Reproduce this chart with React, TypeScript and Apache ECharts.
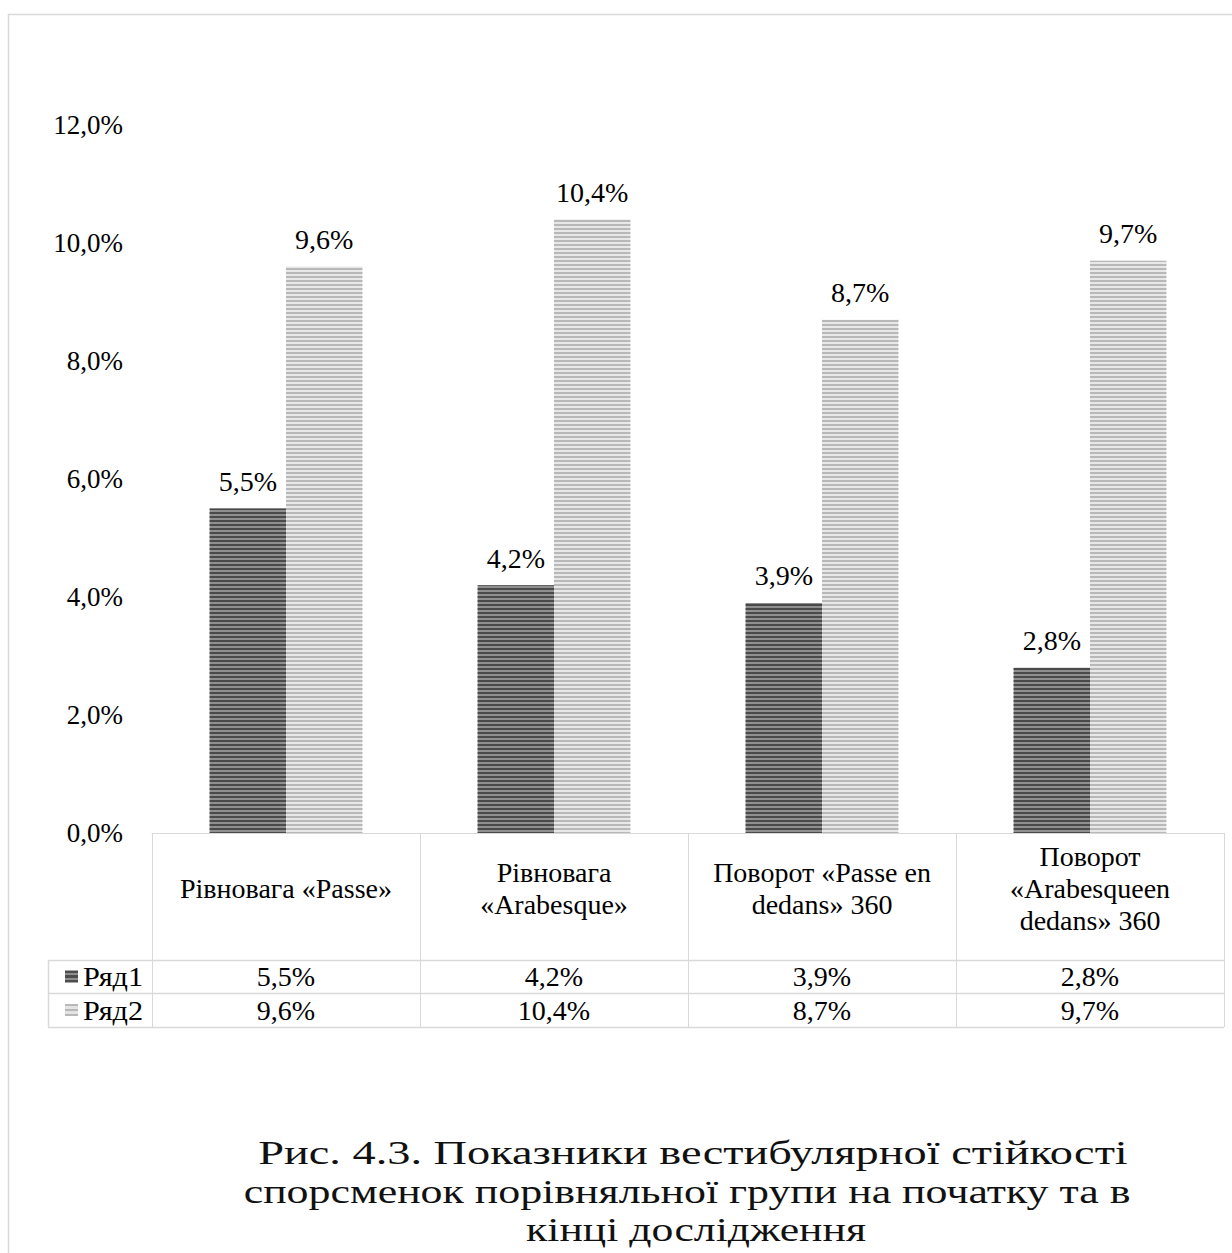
import React, { useEffect, useRef } from 'react';
import * as echarts from 'echarts';

const categories = [
  'Рівновага «Passe»',
  'Рівновага\n«Arabesque»',
  'Поворот «Passe en\ndedans» 360',
  'Поворот\n«Arabesqueen\ndedans» 360',
];
const seriesNames = ['Ряд1', 'Ряд2'];
const series1 = [5.5, 4.2, 3.9, 2.8];
const series2 = [9.6, 10.4, 8.7, 9.7];
const yMin = 0;
const yMax = 12;
const yStep = 2;
const captionLines = [
  'Рис. 4.3. Показники вестибулярної стійкості',
  'спорсменок порівняльної групи на початку та в',
  'кінці дослідження',
];

const FONT = 'Liberation Serif';
const fmt = (v: number) => v.toFixed(1).replace('.', ',') + '%';

const W = 1232;
const H = 1253;
const GRID_LEFT = 152;
const GRID_RIGHT = 8;
const GRID_TOP = 125;
const GRID_BOTTOM = 420;
const LINE = '#d9d9d9';
const FS = 28;

const stripe = (a: string, b: string) =>
  new echarts.graphic.LinearGradient(0, 0, 0, 1, [
    { offset: 0, color: a }, { offset: 0.2, color: a },
    { offset: 0.2, color: b }, { offset: 0.4, color: b },
    { offset: 0.4, color: a }, { offset: 0.6, color: a },
    { offset: 0.6, color: b }, { offset: 0.8, color: b },
    { offset: 0.8, color: a }, { offset: 1, color: a },
  ]);

export default function App() {
  const ref = useRef<HTMLDivElement>(null);
  useEffect(() => {
    document.body.style.margin = '0';
    document.body.style.overflow = 'hidden';
    const chart = echarts.init(ref.current!, null, { renderer: 'svg' });
    const seriesStyles = [
      { color: '#8f8f8f', decal: '#4a4a4a' },
      { color: '#e8e8e8', decal: '#b8b8b8' },
    ];
    const seriesData = [series1, series2];
    chart.setOption({
      animation: false,
      backgroundColor: '#ffffff',
      textStyle: { fontFamily: FONT },
      grid: { left: GRID_LEFT, right: GRID_RIGHT, top: GRID_TOP, bottom: GRID_BOTTOM, containLabel: false },
      xAxis: {
        type: 'category',
        data: categories,
        axisLine: { show: true, lineStyle: { color: LINE, width: 1 } },
        axisTick: { show: true, length: 194, lineStyle: { color: LINE, width: 1 } },
        axisLabel: {
          interval: 0,
          margin: 55,
          verticalAlign: 'middle',
          fontSize: FS,
          lineHeight: 32,
          fontFamily: FONT,
          color: '#000',
        },
      },
      yAxis: {
        type: 'value',
        min: yMin,
        max: yMax,
        interval: yStep,
        axisLine: { show: false },
        axisTick: { show: false },
        splitLine: { show: false },
        axisLabel: {
          formatter: (v: number) => fmt(v),
          fontSize: 27,
          fontFamily: FONT,
          color: '#000',
          margin: 29,
        },
      },
      series: seriesData.map((d, i) => ({
        type: 'bar',
        name: seriesNames[i],
        data: d,
        barGap: '0%',
        barCategoryGap: '43%',
        itemStyle: {
          color: seriesStyles[i].color,
          decal: {
            symbol: 'rect',
            symbolSize: 1,
            dashArrayX: [1, 0],
            dashArrayY: [2, 2],
            color: seriesStyles[i].decal,
            rotation: 0,
          },
        },
        label: {
          show: true,
          position: 'top',
          distance: 13,
          formatter: (p: any) => fmt(p.value),
          fontSize: FS,
          fontFamily: FONT,
          color: '#000',
        },
      })),
    });

    const axisY = H - GRID_BOTTOM;
    const rowTops = [axisY + 127, axisY + 160, axisY + 194];
    const tableLeft = 48;
    const tableRight = W - GRID_RIGHT;
    const graphics: any[] = [];
    graphics.push({
      type: 'rect',
      shape: { x: 8.5, y: 14.5, width: W + 20, height: H + 20 },
      style: { fill: 'none', stroke: LINE, lineWidth: 1.5 },
      silent: true,
    });
    rowTops.forEach((y) => {
      graphics.push({
        type: 'line',
        shape: { x1: tableLeft, y1: y + 0.5, x2: tableRight, y2: y + 0.5 },
        style: { stroke: LINE, lineWidth: 1.5 },
      });
    });
    graphics.push({
      type: 'line',
      shape: { x1: tableLeft + 0.5, y1: rowTops[0], x2: tableLeft + 0.5, y2: rowTops[2] },
      style: { stroke: LINE, lineWidth: 1.5 },
    });
    const iconColors = [
      ['#4d4d4d', '#8f8f8f'],
      ['#b8b8b8', '#e3e3e3'],
    ];
    seriesData.forEach((d, si) => {
      const cy = (rowTops[si] + rowTops[si + 1]) / 2;
      graphics.push({
        type: 'rect',
        shape: { x: 65, y: cy - 6, width: 13, height: 12 },
        style: { fill: stripe(iconColors[si][0], iconColors[si][1]) },
      });
      graphics.push({
        type: 'text',
        x: 83,
        y: cy,
        scaleX: 1.08,
        style: {
          text: seriesNames[si],
          fontFamily: FONT,
          fontSize: FS,
          fill: '#000',
          align: 'left',
          verticalAlign: 'middle',
        },
      });
      d.forEach((v, ci) => {
        const cx = chart.convertToPixel({ xAxisIndex: 0 }, ci) as number;
        graphics.push({
          type: 'text',
          x: cx,
          y: cy,
          style: {
            text: fmt(v),
            fontFamily: FONT,
            fontSize: FS,
            fill: '#000',
            align: 'center',
            verticalAlign: 'middle',
          },
        });
      });
    });

    // caption: per-line horizontal stretch to mimic the spaced-out original
    const capSize = 34;
    const cv = document.createElement('canvas').getContext('2d')!;
    cv.font = `${capSize}px "${FONT}"`;
    const capWidths = [870, 887, 340];
    const capX = [693, 687, 696];
    const capY = [1153, 1191, 1229];
    captionLines.forEach((t, i) => {
      const w = cv.measureText(t).width;
      const sx = w > 0 ? capWidths[i] / w : 1;
      graphics.push({
        type: 'text',
        x: capX[i],
        y: capY[i],
        scaleX: sx,
        style: {
          text: t,
          fontFamily: FONT,
          fontSize: capSize,
          fill: '#111',
          align: 'center',
          verticalAlign: 'middle',
        },
      });
    });

    chart.setOption({ graphic: graphics });
    return () => chart.dispose();
  }, []);
  return <div ref={ref} style={{ width: W, height: H }} />;
}
